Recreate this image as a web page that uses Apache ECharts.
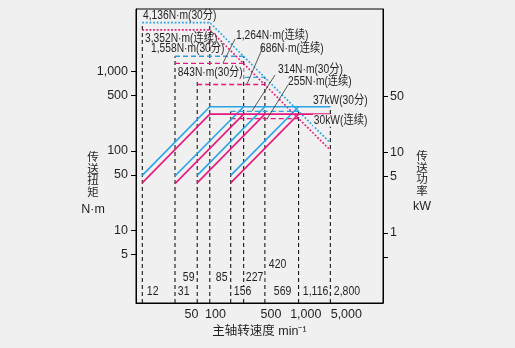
<!DOCTYPE html>
<html><head><meta charset="utf-8">
<script src="https://cdn.jsdelivr.net/npm/echarts@6/dist/echarts.min.js"></script>
<style>html,body{margin:0;padding:0;background:#eff0ef}#c{width:515px;height:348px}</style>
</head><body><div id="c"></div>
<script>
// ---------------- data ----------------
const gearStartSpeed   = [12, 31, 59, 156];        // min-1
const gearBaseSpeed    = [85, 227, 420, 1116];     // min-1
const torque30min      = [4136, 1558, 843, 314];   // N·m (30分)
const torqueCont       = [3352, 1264, 686, 255];   // N·m (连续)
const gearStartPower30 = [5.2, 5.1, 5.2, 5.2];     // kW at start of each gear (30分)
const gearStartPowerCt = [4.2, 4.1, 4.2, 4.2];     // kW at start of each gear (连续)
const power30min = 37;                              // kW
const powerCont  = 30;                              // kW
const maxSpeed   = 2800;                            // min-1
const torqueAtMax30 = 126;                          // N·m at max speed (30分)
const torqueAtMaxCt = 102;                          // N·m at max speed (连续)
const speedMarks = ['12','31','59','85','156','227','420','569','1,116','2,800'];
const xTickValues      = [50, 100, 500, 1000, 5000];
const torqueTickValues = [5, 10, 50, 100, 500, 1000];
const powerTickValues  = [0.5, 1, 5, 10, 50];
const powerLabelValues = [1, 5, 10, 50];

// ---------------- layout / style ----------------
const X_MIN = 10, X_MAX = 12900, T_MIN = 1.21, T_MAX = 6140, P_MIN = 0.135, P_MAX = 606;
const BLUE = '#2aa3e3', MAG = '#e5197e', INK = '#231f20', BG = '#eff0ef';
const SANS = "'Liberation Sans',Arial,'Noto Sans CJK SC',sans-serif";
const CONDENSE_NOTE = 0.82, CONDENSE_SPEED = 0.84;
const speedMarkPos = [[146,292],[177,292],[182,278],[215,278],[233,292],[245,278],[268,265],[273,292],[302,292],[333,292]];
const xLabelRich = {1000:'r', 5000:'l'};
const fmt = v => v.toLocaleString('en-US');

// [text, x, y, knock-out background]
const annotations = [
  [fmt(torque30min[0]) + 'N·m(30分)', 143, 16, false],
  [fmt(torqueCont[0])  + 'N·m(连续)', 145, 38.5, false],
  [fmt(torque30min[1]) + 'N·m(30分)', 151, 49, false],
  [fmt(torque30min[2]) + 'N·m(30分)', 177, 72.5, true],
  [fmt(torqueCont[1])  + 'N·m(连续)', 236, 36, false],
  [fmt(torqueCont[2])  + 'N·m(连续)', 260, 49, false],
  [fmt(torque30min[3]) + 'N·m(30分)', 278, 70, false],
  [fmt(torqueCont[3])  + 'N·m(连续)', 288, 81.5, false],
  [power30min + 'kW(30分)', 313, 100.5, false],
  [powerCont + 'kW(连续)', 313, 120.5, true]
];
const leaders = [[235,39,223,63],[263,47,247,84],[275,75,252,111],[288,85,267,119]];

const base = {type:'line', symbol:'none', silent:true, animation:false};
const series = [];
// black dashed guide lines
for (let g = 0; g < 4; g++) {
  [gearStartSpeed[g], gearBaseSpeed[g]].forEach(s => {
    series.push(Object.assign({}, base, {yAxisIndex:0, z:1,
      data:[[s, T_MIN], [s, torque30min[g]]],
      lineStyle:{color:'#000', width:1, type:[4,3]}}));
  });
}
series.push(Object.assign({}, base, {yAxisIndex:1, z:1,
  data:[[maxSpeed, P_MIN], [maxSpeed, power30min]],
  lineStyle:{color:'#000', width:1, type:[4,3]}}));

// gear 1 torque + constant-power torque envelope (dotted)
series.push(Object.assign({}, base, {yAxisIndex:0, z:3,
  data:[[gearStartSpeed[0], torque30min[0]], [gearBaseSpeed[0], torque30min[0]], [maxSpeed, torqueAtMax30]],
  lineStyle:{color:BLUE, width:1.6, type:[1.8,1.8]}}));
series.push(Object.assign({}, base, {yAxisIndex:0, z:3,
  data:[[gearStartSpeed[0], torqueCont[0]], [gearBaseSpeed[0], torqueCont[0]], [maxSpeed, torqueAtMaxCt]],
  lineStyle:{color:MAG, width:1.6, type:[1.8,1.8]}}));
// gears 2-4 torque (dashed)
for (let g = 1; g < 4; g++) {
  series.push(Object.assign({}, base, {yAxisIndex:0, z:3,
    data:[[gearStartSpeed[g], torque30min[g]], [gearBaseSpeed[g], torque30min[g]]],
    lineStyle:{color:BLUE, width:1.3, type:[5,3]}}));
  series.push(Object.assign({}, base, {yAxisIndex:0, z:3,
    data:[[gearStartSpeed[g], torqueCont[g]], [gearBaseSpeed[g], torqueCont[g]]],
    lineStyle:{color:MAG, width:1.3, type:[5,3]}}));
}
// power curves (solid)
for (let g = 0; g < 4; g++) {
  series.push(Object.assign({}, base, {yAxisIndex:1, z:4,
    data:[[gearStartSpeed[g], gearStartPower30[g]], [gearBaseSpeed[g], power30min]],
    lineStyle:{color:BLUE, width:1.6}}));
  series.push(Object.assign({}, base, {yAxisIndex:1, z:4,
    data:[[gearStartSpeed[g], gearStartPowerCt[g]], [gearBaseSpeed[g], powerCont]],
    lineStyle:{color:MAG, width:1.6}}));
}
series.push(Object.assign({}, base, {yAxisIndex:1, z:4,
  data:[[gearBaseSpeed[0], power30min], [maxSpeed, power30min]], lineStyle:{color:BLUE, width:1.6}}));
series.push(Object.assign({}, base, {yAxisIndex:1, z:4,
  data:[[gearBaseSpeed[0], powerCont], [maxSpeed, powerCont]], lineStyle:{color:MAG, width:1.6}}));

const graphics = [];
annotations.forEach(a => graphics.push({type:'text', z:50, silent:true, x:a[1], y:a[2], scaleX:CONDENSE_NOTE,
  style:Object.assign({text:a[0], x:0, y:0, verticalAlign:'middle', align:'left', font:'12.5px ' + SANS, fill:INK},
    a[3] ? {backgroundColor:BG, padding:[0,1]} : {})}));
leaders.forEach(l => graphics.push({type:'line', z:49, silent:true,
  shape:{x1:l[0], y1:l[1], x2:l[2], y2:l[3]}, style:{stroke:'#333', lineWidth:0.8}}));
speedMarks.forEach((t, i) => graphics.push({type:'text', z:50, silent:true, x:speedMarkPos[i][0], y:speedMarkPos[i][1], scaleX:CONDENSE_SPEED,
  style:{text:t, x:0, y:0, verticalAlign:'middle', align:'left', font:'12.5px ' + SANS, fill:INK,
         backgroundColor:BG, padding:[0,1]}}));
graphics.push({type:'text', silent:true, style:{text:'传\n送\n扭\n矩', x:93, y:151, align:'center', verticalAlign:'top',
  font:'11.5px "Noto Sans CJK SC"', lineHeight:11.5, fill:INK}});
graphics.push({type:'text', silent:true, style:{text:'N·m', x:93, y:210, align:'center', verticalAlign:'middle',
  font:'12.5px ' + SANS, fill:INK}});
graphics.push({type:'text', silent:true, style:{text:'传\n送\n功\n率', x:422, y:150, align:'center', verticalAlign:'top',
  font:'11.5px "Noto Sans CJK SC"', lineHeight:11.5, fill:INK}});
graphics.push({type:'text', silent:true, style:{text:'kW', x:422, y:207, align:'center', verticalAlign:'middle',
  font:'12.5px ' + SANS, fill:INK}});

const labelFont = {fontSize:12.5, color:INK, fontFamily:SANS};
const axisLineStyle = {show:true, lineStyle:{color:'#000', width:1}};
const chart = echarts.init(document.getElementById('c'), null, {renderer:'canvas'});
chart.setOption({
  backgroundColor: BG,
  animation: false,
  grid: {left:136, right:132, top:9, bottom:45, show:true, borderColor:'#000', borderWidth:1, backgroundColor:'transparent'},
  xAxis: {type:'log', logBase:10, min:X_MIN, max:X_MAX,
    name:'主轴转速度 min⁻¹', nameLocation:'middle', nameGap:21,
    nameTextStyle:{fontSize:12.5, color:INK, fontFamily:SANS},
    axisLine: axisLineStyle, axisTick:{show:false}, splitLine:{show:false}, minorTick:{show:false},
    axisLabel:Object.assign({customValues:xTickValues, margin:5,
      formatter:v => { const r = Math.round(v); const k = xLabelRich[r]; return k ? '{' + k + '|' + fmt(r) + '}' : fmt(r); },
      rich:{r:Object.assign({padding:[0,0,0,22]}, labelFont), l:Object.assign({padding:[0,8,0,0]}, labelFont)}}, labelFont)},
  yAxis: [
    {type:'log', logBase:10, min:T_MIN, max:T_MAX, position:'left',
     axisLine: axisLineStyle, splitLine:{show:false},
     axisTick:{show:true, customValues:torqueTickValues, length:5, lineStyle:{color:'#000'}},
     axisLabel:Object.assign({customValues:torqueTickValues, formatter:v => fmt(Math.round(v)), margin:8}, labelFont)},
    {type:'log', logBase:10, min:P_MIN, max:P_MAX, position:'right',
     axisLine: axisLineStyle, splitLine:{show:false},
     axisTick:{show:true, customValues:powerTickValues, length:5, lineStyle:{color:'#000'}},
     axisLabel:Object.assign({customValues:powerLabelValues, formatter:v => fmt(Math.round(v)), margin:7}, labelFont)}
  ],
  series: series,
  graphic: graphics
});
</script></body></html>
